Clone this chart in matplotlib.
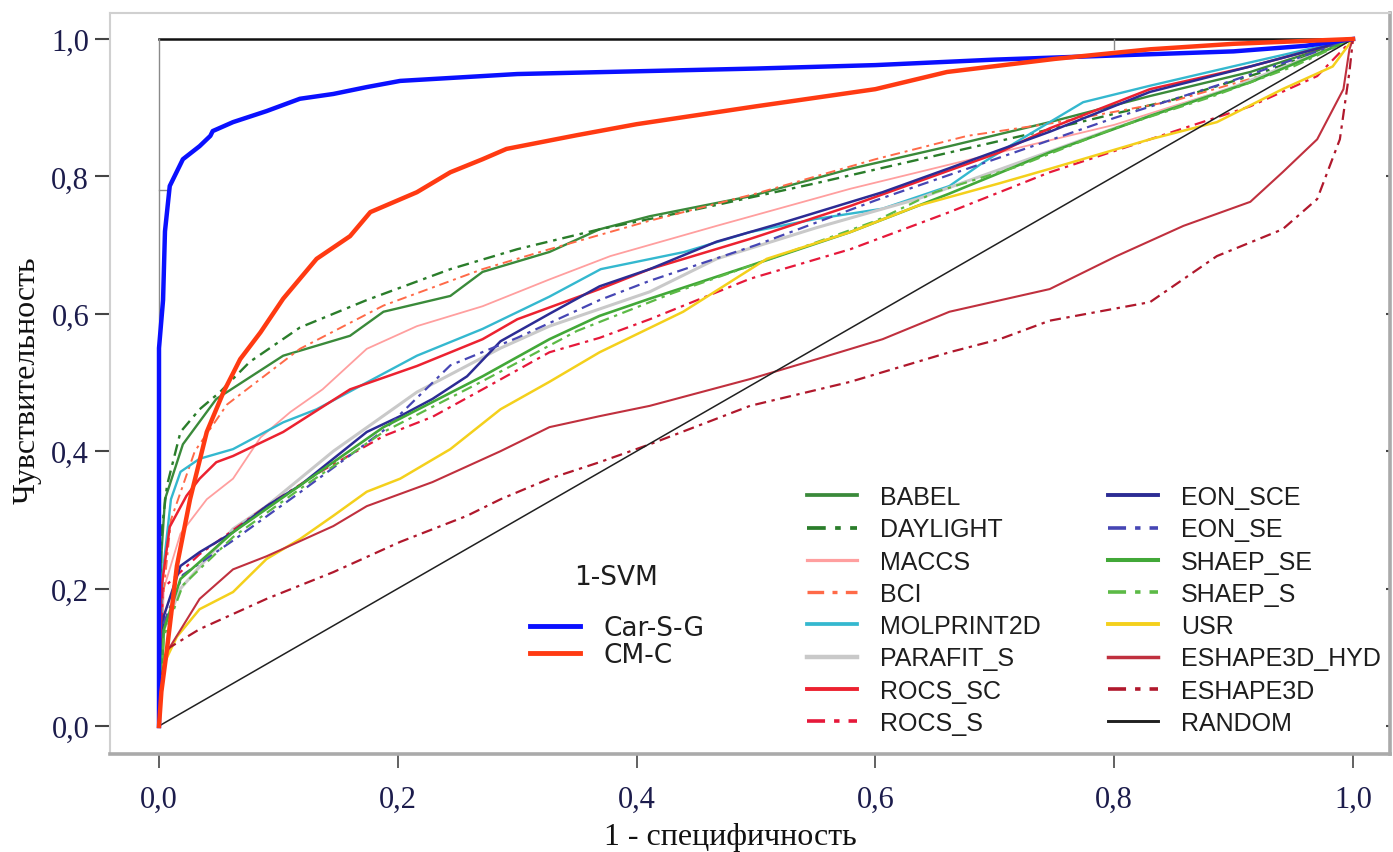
import matplotlib
matplotlib.use("Agg")
import matplotlib.pyplot as plt
from matplotlib.lines import Line2D

# ---------------- data: ROC curves (false positive rate, true positive rate) ----------------
CAR_S_G_FPR = [0.0, 0.0, 0.0, 0.0034, 0.005, 0.009, 0.020, 0.034, 0.043, 0.045, 0.062, 0.090, 0.118,
               0.146, 0.174, 0.202, 0.30, 0.40, 0.50, 0.60, 0.70, 0.80, 0.90, 0.96, 1.0]
CAR_S_G_TPR = [0.0, 0.30, 0.55, 0.62, 0.72, 0.786, 0.825, 0.844, 0.859, 0.866, 0.879, 0.895, 0.913,
               0.92, 0.93, 0.939, 0.949, 0.953, 0.957, 0.962, 0.970, 0.976, 0.982, 0.99, 1.0]

CM_C_FPR = [0.0, 0.002, 0.0067, 0.015, 0.026, 0.040, 0.054, 0.068, 0.085, 0.104, 0.132, 0.160, 0.177,
            0.216, 0.244, 0.271, 0.291, 0.35, 0.40, 0.50, 0.60, 0.66, 0.75, 0.83, 0.90, 1.0]
CM_C_TPR = [0.0, 0.05, 0.112, 0.233, 0.33, 0.428, 0.486, 0.534, 0.573, 0.622, 0.68, 0.713, 0.748,
            0.777, 0.806, 0.825, 0.84, 0.86, 0.876, 0.902, 0.927, 0.952, 0.971, 0.985, 0.993, 1.0]

BABEL_FPR = [0.0, 0.002, 0.005, 0.02, 0.048, 0.104, 0.16, 0.188, 0.244, 0.271, 0.327, 0.369, 0.411,
             0.495, 0.579, 0.662, 0.746, 0.83, 0.914, 1.0]
BABEL_TPR = [0.0, 0.25, 0.33, 0.41, 0.476, 0.539, 0.568, 0.603, 0.626, 0.661, 0.69, 0.723, 0.742,
             0.771, 0.811, 0.844, 0.879, 0.917, 0.952, 1.0]

DAYLIGHT_FPR = [0.0, 0.002, 0.0067, 0.018, 0.034, 0.051, 0.076, 0.118, 0.174, 0.244, 0.30, 0.369,
                0.45, 0.55, 0.65, 0.75, 0.85, 0.93, 1.0]
DAYLIGHT_TPR = [0.0, 0.28, 0.35, 0.428, 0.461, 0.486, 0.53, 0.58, 0.62, 0.665, 0.694, 0.723,
                0.752, 0.79, 0.83, 0.87, 0.912, 0.955, 1.0]

MACCS_FPR = [0.0, 0.004, 0.018, 0.04, 0.062, 0.085, 0.110, 0.137, 0.174, 0.216, 0.271, 0.327, 0.378,
             0.467, 0.579, 0.704, 0.80, 0.90, 1.0]
MACCS_TPR = [0.0, 0.20, 0.28, 0.33, 0.36, 0.42, 0.457, 0.49, 0.549, 0.582, 0.611, 0.65, 0.684,
             0.728, 0.782, 0.835, 0.875, 0.93, 1.0]

BCI_FPR = [0.0, 0.003, 0.01, 0.03, 0.057, 0.118, 0.188, 0.271, 0.327, 0.41, 0.50, 0.60, 0.677, 0.75,
           0.85, 0.93, 1.0]
BCI_TPR = [0.0, 0.18, 0.30, 0.40, 0.468, 0.549, 0.612, 0.665, 0.694, 0.735, 0.775, 0.825, 0.859, 0.878,
           0.91, 0.95, 1.0]

MOLPRINT2D_FPR = [0.0, 0.003, 0.01, 0.018, 0.034, 0.062, 0.104, 0.132, 0.174, 0.216, 0.271, 0.327,
                  0.37, 0.44, 0.495, 0.55, 0.606, 0.662, 0.69, 0.718, 0.774, 0.83, 0.914, 1.0]
MOLPRINT2D_TPR = [0.0, 0.22, 0.33, 0.37, 0.389, 0.403, 0.442, 0.461, 0.50, 0.539, 0.578, 0.625,
                  0.665, 0.69, 0.719, 0.738, 0.753, 0.786, 0.82, 0.85, 0.908, 0.932, 0.966, 1.0]

PARAFIT_S_FPR = [0.0, 0.004, 0.018, 0.062, 0.09, 0.146, 0.216, 0.286, 0.327, 0.411, 0.467, 0.55,
                 0.635, 0.72, 0.80, 0.90, 1.0]
PARAFIT_S_TPR = [0.0, 0.14, 0.20, 0.287, 0.32, 0.40, 0.486, 0.55, 0.582, 0.632, 0.68, 0.725,
                 0.767, 0.82, 0.87, 0.93, 1.0]

ROCS_SC_FPR = [0.0, 0.002, 0.009, 0.023, 0.034, 0.048, 0.062, 0.104, 0.16, 0.216, 0.271, 0.30, 0.369,
               0.411, 0.495, 0.579, 0.704, 0.746, 0.83, 0.914, 1.0]
ROCS_SC_TPR = [0.0, 0.20, 0.29, 0.335, 0.36, 0.384, 0.393, 0.428, 0.49, 0.524, 0.563, 0.592, 0.636,
               0.665, 0.709, 0.757, 0.835, 0.87, 0.927, 0.96, 1.0]

ROCS_S_FPR = [0.0, 0.003, 0.034, 0.09, 0.135, 0.188, 0.229, 0.271, 0.327, 0.369, 0.411, 0.495, 0.579,
              0.662, 0.746, 0.83, 0.914, 0.97, 1.0]
ROCS_S_TPR = [0.0, 0.20, 0.25, 0.32, 0.37, 0.422, 0.45, 0.49, 0.544, 0.565, 0.592, 0.651, 0.694,
              0.748, 0.806, 0.854, 0.902, 0.946, 1.0]

EON_SCE_FPR = [0.0, 0.004, 0.018, 0.034, 0.062, 0.09, 0.118, 0.146, 0.174, 0.202, 0.229, 0.258, 0.286,
               0.327, 0.369, 0.411, 0.467, 0.523, 0.606, 0.662, 0.746, 0.83, 0.914, 1.0]
EON_SCE_TPR = [0.0, 0.16, 0.233, 0.253, 0.282, 0.32, 0.35, 0.389, 0.428, 0.451, 0.476, 0.509, 0.56,
               0.60, 0.64, 0.665, 0.705, 0.733, 0.777, 0.812, 0.865, 0.923, 0.96, 1.0]

EON_SE_FPR = [0.0, 0.004, 0.02, 0.062, 0.118, 0.188, 0.244, 0.30, 0.369, 0.411, 0.50, 0.60, 0.70,
              0.80, 0.90, 1.0]
EON_SE_TPR = [0.0, 0.15, 0.22, 0.27, 0.34, 0.43, 0.525, 0.565, 0.62, 0.648, 0.70, 0.765, 0.825,
              0.885, 0.94, 1.0]

SHAEP_SE_FPR = [0.0, 0.004, 0.018, 0.062, 0.118, 0.188, 0.271, 0.327, 0.369, 0.411, 0.495, 0.579,
                0.662, 0.746, 0.83, 0.914, 1.0]
SHAEP_SE_TPR = [0.0, 0.14, 0.214, 0.282, 0.35, 0.435, 0.509, 0.563, 0.597, 0.622, 0.67, 0.719,
                0.775, 0.835, 0.888, 0.937, 1.0]

SHAEP_S_FPR = [0.0, 0.004, 0.02, 0.062, 0.118, 0.188, 0.271, 0.35, 0.43, 0.52, 0.60, 0.65, 0.72,
               0.80, 0.88, 0.95, 1.0]
SHAEP_S_TPR = [0.0, 0.13, 0.205, 0.275, 0.345, 0.428, 0.502, 0.575, 0.63, 0.685, 0.735, 0.777,
               0.815, 0.87, 0.915, 0.96, 1.0]

USR_FPR = [0.0, 0.004, 0.015, 0.034, 0.062, 0.09, 0.118, 0.146, 0.174, 0.202, 0.244, 0.286, 0.327,
           0.369, 0.439, 0.509, 0.579, 0.635, 0.704, 0.746, 0.83, 0.886, 0.941, 0.983, 1.0]
USR_TPR = [0.0, 0.09, 0.13, 0.17, 0.195, 0.243, 0.272, 0.306, 0.341, 0.36, 0.403, 0.461, 0.501,
           0.544, 0.603, 0.68, 0.719, 0.757, 0.79, 0.811, 0.854, 0.879, 0.927, 0.96, 1.0]

ESHAPE3D_HYD_FPR = [0.0, 0.002, 0.0067, 0.034, 0.062, 0.09, 0.146, 0.174, 0.229, 0.286, 0.327, 0.369,
                    0.411, 0.495, 0.551, 0.606, 0.662, 0.746, 0.802, 0.858, 0.914, 0.941, 0.97, 0.992,
                    0.997, 1.0]
ESHAPE3D_HYD_TPR = [0.0, 0.06, 0.108, 0.185, 0.228, 0.247, 0.291, 0.32, 0.355, 0.40, 0.435, 0.451,
                    0.466, 0.505, 0.534, 0.563, 0.603, 0.636, 0.684, 0.728, 0.763, 0.806, 0.854, 0.927,
                    0.985, 1.0]

ESHAPE3D_FPR = [0.0, 0.002, 0.0067, 0.034, 0.09, 0.146, 0.202, 0.258, 0.286, 0.327, 0.369, 0.411,
                0.495, 0.579, 0.662, 0.704, 0.746, 0.83, 0.886, 0.941, 0.97, 0.989, 0.997, 1.0]
ESHAPE3D_TPR = [0.0, 0.07, 0.112, 0.141, 0.185, 0.224, 0.268, 0.306, 0.33, 0.36, 0.384, 0.41,
                0.466, 0.501, 0.544, 0.563, 0.59, 0.617, 0.684, 0.723, 0.767, 0.854, 0.952, 1.0]

RANDOM_FPR = [0.0, 1.0]
RANDOM_TPR = [0.0, 1.0]

X_TICKS = [0.0, 0.2, 0.4, 0.6, 0.8, 1.0]
Y_TICKS = [0.0, 0.2, 0.4, 0.6, 0.8, 1.0]
TICK_LABELS = ["0,0", "0,2", "0,4", "0,6", "0,8", "1,0"]

X_LABEL = "1 - специфичность"
Y_LABEL = "Чувствительность"
SVM_TITLE = "1-SVM"

# ---------------- figure ----------------
W, H = 1393, 853
fig = plt.figure(figsize=(W / 100, H / 100), dpi=100)
fig.patch.set_facecolor("white")

# axes box corresponds to the outer grey frame
ax = fig.add_axes([110 / W, 1 - 755 / H, 1280 / W, 741 / H])
ax.set_xlim(-0.04104, 1.03099)
ax.set_ylim(-0.04076, 1.03785)

DASHDOT = (0, (5, 2.5, 1.5, 2.5))

methods = [
    ("BABEL", BABEL_FPR, BABEL_TPR, "#3a8a3a", "-", 1.7),
    ("DAYLIGHT", DAYLIGHT_FPR, DAYLIGHT_TPR, "#2a7d2a", DASHDOT, 1.7),
    ("MACCS", MACCS_FPR, MACCS_TPR, "#ff9f9f", "-", 1.3),
    ("BCI", BCI_FPR, BCI_TPR, "#ff6a48", DASHDOT, 1.4),
    ("MOLPRINT2D", MOLPRINT2D_FPR, MOLPRINT2D_TPR, "#34b8cf", "-", 1.7),
    ("PARAFIT_S", PARAFIT_S_FPR, PARAFIT_S_TPR, "#c9c9c9", "-", 2.2),
    ("ROCS_SC", ROCS_SC_FPR, ROCS_SC_TPR, "#ec2230", "-", 1.8),
    ("ROCS_S", ROCS_S_FPR, ROCS_S_TPR, "#e6183a", DASHDOT, 1.6),
    ("EON_SCE", EON_SCE_FPR, EON_SCE_TPR, "#2c2c94", "-", 1.8),
    ("EON_SE", EON_SE_FPR, EON_SE_TPR, "#4646b4", DASHDOT, 1.6),
    ("SHAEP_SE", SHAEP_SE_FPR, SHAEP_SE_TPR, "#42a838", "-", 1.9),
    ("SHAEP_S", SHAEP_S_FPR, SHAEP_S_TPR, "#5cba46", DASHDOT, 1.6),
    ("USR", USR_FPR, USR_TPR, "#f4d01c", "-", 1.8),
    ("ESHAPE3D_HYD", ESHAPE3D_HYD_FPR, ESHAPE3D_HYD_TPR, "#c0303e", "-", 1.5),
    ("ESHAPE3D", ESHAPE3D_FPR, ESHAPE3D_TPR, "#b0182c", DASHDOT, 1.6),
    ("RANDOM", RANDOM_FPR, RANDOM_TPR, "#202020", "-", 1.1),
]

svm_models = [
    ("Car-S-G", CAR_S_G_FPR, CAR_S_G_TPR, "#0a10ff", 3.2),
    ("CM-C", CM_C_FPR, CM_C_TPR, "#ff3a12", 3.2),
]

# inner plotting frame (top black edge, left grey edge, small marks)
ax.plot([0, 1], [1, 1], color="#111111", lw=1.8, zorder=1)
ax.plot([0, 0], [0, 1], color="#8a8a8a", lw=1.0, zorder=1)
ax.plot([0.8, 0.8], [1, 0.985], color="#8a8a8a", lw=1.0, zorder=1)
ax.plot([0, 0.006], [0.78, 0.78], color="#8a8a8a", lw=1.0, zorder=1)

method_handles = []
for name, fpr, tpr, color, ls, lw in methods:
    ax.plot(fpr, tpr, color=color, ls=ls, lw=lw, zorder=2, solid_joinstyle="round")
    method_handles.append(Line2D([], [], color=color, ls=ls, lw=lw + 1.0, label=name))

svm_handles = []
for name, fpr, tpr, color, lw in svm_models:
    ax.plot(fpr, tpr, color=color, lw=lw, zorder=3, solid_joinstyle="round")
    svm_handles.append(Line2D([], [], color=color, lw=3.5, label=name))

# ---------------- axes styling ----------------
for side in ("left", "top"):
    ax.spines[side].set_color("#d0d0d0")
    ax.spines[side].set_linewidth(1.5)
for side in ("bottom", "right"):
    ax.spines[side].set_color("#aaaaaa")
    ax.spines[side].set_linewidth(2.6)

serif = "Liberation Serif"
label_color = "#1c1c4c"
ax.set_xticks(X_TICKS)
ax.set_xticklabels(TICK_LABELS, fontfamily=serif, fontsize=22, color=label_color)
ax.set_yticks(Y_TICKS)
ax.set_yticklabels(TICK_LABELS, fontfamily=serif, fontsize=22, color=label_color)
ax.tick_params(axis="x", direction="out", length=10, width=1.3, color="#555555", pad=12)
ax.tick_params(axis="y", direction="out", length=11, width=1.5, color="#444444", pad=4)

right_axis = ax.secondary_yaxis("right")
right_axis.set_yticks(Y_TICKS)
right_axis.tick_params(direction="in", length=3, width=1.5, color="#444444", labelright=False)
right_axis.spines["right"].set_visible(False)

ax.set_xlabel(X_LABEL, fontfamily=serif, fontsize=23, color="#111111")
ax.xaxis.set_label_coords((730 - 110) / 1280, (755 - 838) / 741)
ax.xaxis.label.set_va("center")
ax.set_ylabel(Y_LABEL, fontfamily=serif, fontsize=23, color="#111111")
ax.yaxis.set_label_coords((27 - 110) / 1280, (755 - 380) / 741)
ax.yaxis.label.set_va("center")

# ---------------- legends ----------------
leg_methods = ax.legend(
    handles=method_handles, ncol=2, frameon=False,
    loc="center left", bbox_to_anchor=(807 / W, 1 - 611 / H), bbox_transform=fig.transFigure,
    borderpad=0, borderaxespad=0,
    prop={"family": "Liberation Sans", "size": 18},
    handlelength=2.0, handletextpad=0.92, columnspacing=2.68, labelspacing=0.33,
)
for t in leg_methods.get_texts():
    t.set_color("#1e1e1e")
    t.set_clip_path(ax.patch)
ax.add_artist(leg_methods)

leg_svm = ax.legend(
    handles=svm_handles, frameon=False,
    loc="center left", bbox_to_anchor=(530 / W, 1 - 642.5 / H), bbox_transform=fig.transFigure,
    borderpad=0, borderaxespad=0,
    prop={"family": "DejaVu Sans", "size": 19},
    handlelength=1.9, handletextpad=0.9, labelspacing=0.05,
)
for t in leg_svm.get_texts():
    t.set_color("#1e1e1e")

fig.text(616 / W, 1 - 578 / H, SVM_TITLE, ha="center", va="center",
         fontfamily="DejaVu Sans", fontsize=19, color="#1e1e1e")

fig.savefig("out.png", dpi=100, facecolor="white")
